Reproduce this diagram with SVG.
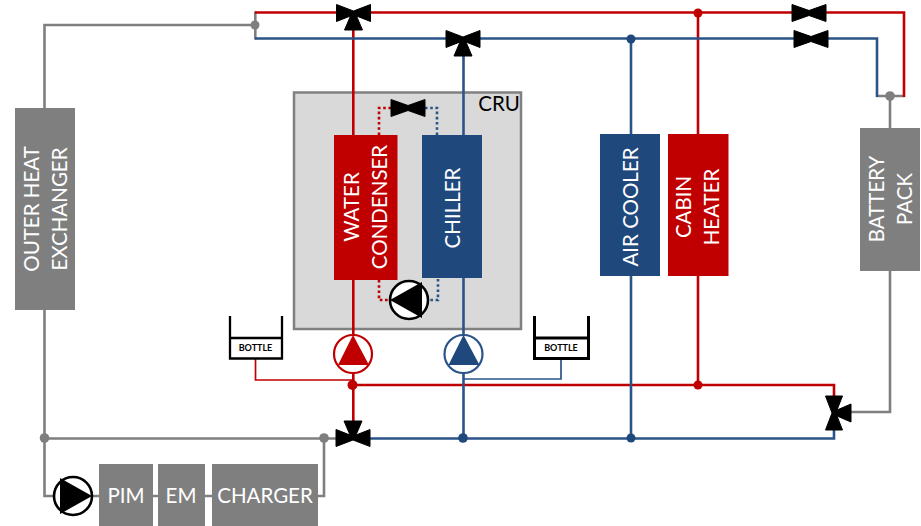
<svg xmlns="http://www.w3.org/2000/svg" width="921" height="526" viewBox="0 0 921 526">
<style>
.w{fill:none;stroke-width:2.6;stroke-linejoin:miter}
.r{stroke:#c00000}.b{stroke:#2a5488}.g{stroke:#7f7f7f}
.t{stroke-width:1.7}
.d{stroke-width:2.6;stroke-dasharray:2.6 2.6}
.box{stroke:none}
.lbl{font-family:Lato,"Open Sans",sans-serif;font-size:20.5px;fill:#fff;text-anchor:middle}
.v{fill:#000;stroke:#000;stroke-width:1;stroke-linejoin:round}
.bl{font-family:Lato,"Liberation Sans",sans-serif;font-size:9px;font-weight:bold;fill:#000;text-anchor:middle}
</style>
<defs>
<path id="v2" class="v" d="M-17,-8.500L0,-2.500L17,-8.500V8.500L0,2.500L-17,8.500Z"/>
<path id="v3" class="v" d="M-17,-8.500L0,-2L17,-8.500V8.500L3,3L9,17H-9L-3,3L-17,8.500Z"/>
</defs>
<g id="cru"><rect x="294" y="92.500" width="227" height="236.500" fill="#d9d9d9" stroke="#808080" stroke-width="2.500"/><text x="499" y="111" style="font-family:Lato,'Open Sans',sans-serif;font-size:20.500px;fill:#000;text-anchor:middle">CRU</text></g>
<g id="connectors">
<path class="w g" d="M255,25H44.500V108M255.300,11.500V39.500M890,96V128M876,96H905M44.500,310V496H56M44.500,438.500H336M92,496H99M153,496H158M205,496H212M318,496H324V438.500M890,271V412H851"/>
<path class="w r" d="M255,12.500H336M370,12.500H792M826,12.500H904V97M353.300,26V135M353.300,280V336M353.300,372V421M352,385H834V396M698,12V134M698,276V385"/>
<path class="w b" d="M255,38.500H446M480,38.500H794M828,38.500H877V97M463.500,56V135M463.500,278V336M463.500,372V438M631,39V134M631,276V438M370,438.500H834V428"/>
<path class="w r d" d="M379,135V108H391M379,280V300H390"/>
<path class="w b d" d="M437,135V108H425M438,279V300H430"/>
<path class="w r t" d="M255.500,359V380H352"/>
<path class="w b t" d="M561,357V379H463"/>
</g>
<g id="outer-heat-exchanger"><rect class="box" x="15" y="108" width="60" height="202" fill="#7f7f7f"/><text class="lbl" transform="translate(39,209) rotate(-90)">OUTER HEAT</text><text class="lbl" transform="translate(67,209) rotate(-90)">EXCHANGER</text></g>
<g id="water-condenser"><rect class="box" x="334" y="135" width="63.500" height="145" fill="#c00000"/><text class="lbl" transform="translate(359,207) rotate(-90)">WATER</text><text class="lbl" transform="translate(387,207) rotate(-90)">CONDENSER</text></g>
<g id="chiller"><rect class="box" x="422" y="135" width="60" height="143" fill="#1f497d"/><text class="lbl" transform="translate(460,208) rotate(-90)">CHILLER</text></g>
<g id="air-cooler"><rect class="box" x="600" y="134" width="60" height="142" fill="#1f497d"/><text class="lbl" transform="translate(638,207) rotate(-90)">AIR COOLER</text></g>
<g id="cabin-heater"><rect class="box" x="668" y="134" width="60.500" height="142" fill="#c00000"/><text class="lbl" transform="translate(691,207) rotate(-90)">CABIN</text><text class="lbl" transform="translate(719,207) rotate(-90)">HEATER</text></g>
<g id="battery-pack"><rect class="box" x="860" y="128" width="60" height="143" fill="#7f7f7f"/><text class="lbl" transform="translate(884,199) rotate(-90)">BATTERY</text><text class="lbl" transform="translate(912,199) rotate(-90)">PACK</text></g>
<g id="pim"><rect class="box" x="99" y="464" width="54" height="62" fill="#7f7f7f"/><text class="lbl" x="126" y="503">PIM</text></g>
<g id="em"><rect class="box" x="158" y="464" width="47" height="62" fill="#7f7f7f"/><text class="lbl" x="181" y="503">EM</text></g>
<g id="charger"><rect class="box" x="212" y="464" width="106" height="62" fill="#7f7f7f"/><text class="lbl" x="265" y="503">CHARGER</text></g>
<g id="junctions">
<circle cx="255" cy="25" r="4.500" fill="#7f7f7f"/>
<circle cx="890" cy="96" r="4.800" fill="#7f7f7f"/>
<circle cx="44.500" cy="438" r="4.800" fill="#7f7f7f"/>
<circle cx="324" cy="438" r="4.800" fill="#7f7f7f"/>
<circle cx="698" cy="13" r="4.500" fill="#c00000"/>
<circle cx="698" cy="385" r="4.500" fill="#c00000"/>
<circle cx="352.500" cy="385" r="5" fill="#c00000"/>
<circle cx="631" cy="39" r="4.500" fill="#1f497d"/>
<circle cx="463" cy="438" r="4.800" fill="#1f497d"/>
<circle cx="631" cy="438" r="4.500" fill="#1f497d"/>
</g>
<g id="valve-top-red"><use href="#v3" x="353.500" y="13"/></g>
<g id="valve-top-blue"><use href="#v3" x="463" y="39"/></g>
<g id="valve-cru"><use href="#v2" x="408" y="108"/></g>
<g id="valve-right-red"><use href="#v2" x="809" y="13"/></g>
<g id="valve-right-blue"><use href="#v2" x="811" y="39"/></g>
<g id="valve-bottom"><use href="#v3" transform="translate(353,438) scale(1,-1)"/></g>
<g id="valve-battery"><use href="#v3" transform="translate(834,413) rotate(-90)"/></g>
<g id="pump-cru"><circle cx="409" cy="300" r="19" fill="#fff" stroke="#000" stroke-width="2.600"/><path d="M390,300L422,282V318Z" fill="#000"/></g>
<g id="pump-red"><circle cx="353" cy="354" r="19" fill="#fff" stroke="#c00000" stroke-width="2.200"/><path d="M353,335L369,365H338Z" fill="#c00000"/></g>
<g id="pump-blue"><circle cx="463.500" cy="354" r="19" fill="#fff" stroke="#2a5488" stroke-width="2.200"/><path d="M463.500,335L479.500,365H448.500Z" fill="#1f497d"/></g>
<g id="pump-loop"><circle cx="73" cy="496" r="19" fill="#fff" stroke="#000" stroke-width="2.600"/><path d="M92,496L60,478V514Z" fill="#000"/></g>
<g id="bottle-left"><path d="M230,316V358.500H282V316M230,338H282" fill="none" stroke="#000" stroke-width="2.300"/><text class="bl" x="255.500" y="351">BOTTLE</text></g>
<g id="bottle-right"><path d="M534.500,316V358.500H588.500V316M534.500,338H588.500" fill="none" stroke="#000" stroke-width="3"/><text class="bl" x="561" y="351">BOTTLE</text></g>
</svg>
